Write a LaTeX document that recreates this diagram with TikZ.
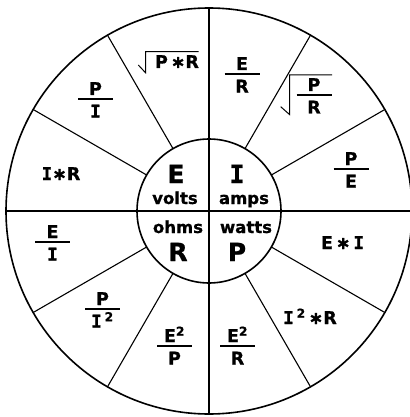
\documentclass[tikz,border=0pt]{standalone}
\usepackage{fontspec}
\setmainfont{DejaVu Sans}[BoldFeatures={FakeBold=0.8}]
\newfontfamily\serifI{DejaVu Sans Mono}[BoldFeatures={FakeBold=0.8}]
\usetikzlibrary{calc}
\newcommand{\st}{{∗}}
\newcommand{\II}{{\serifI I}}
\tikzset{
  outerc/.style={line width=1.6pt},
  innerc/.style={line width=1.6pt},
  spoke/.style={line width=1.1pt},
  bar/.style={line width=1.4pt},
  rad/.style={line width=1.0pt, line join=miter},
  lbl/.style={font=\fontsize{17.5}{18}\bfseries\selectfont, inner sep=0pt, anchor=base},
  big/.style={font=\fontsize{25}{25}\bfseries\selectfont, inner sep=0pt, anchor=base},
  unit/.style={font=\fontsize{16.5}{17}\bfseries\selectfont, inner sep=0pt, anchor=base},
}
% fraction: name, x, ybar, numerator, denominator
\newcommand{\fr}[5]{%
  \node[lbl] (#1n) at (#2,#3-4) {#4};
  \draw[bar] (#2-17.5,#3) -- (#2+17.5,#3);
  \node[lbl] (#1d) at (#2,#3+18.5) {#5};
}
\begin{document}
\begin{tikzpicture}[x=1pt,y=-1pt]
\useasboundingbox (0,0) rectangle (409,417);
\coordinate (O) at (209,211);
% spokes
\draw[spoke] ($(O)+(0,-203)$) -- ($(O)+(0,203)$);
\draw[spoke] ($(O)+(-203,0)$) -- ($(O)+(203,0)$);
\foreach \a in {30,60,120,150,210,240,300,330}
  \draw[spoke] ($(O)+(\a:72)$) -- ($(O)+(\a:203)$);
\draw[outerc] (O) circle[radius=203pt];
\draw[innerc] (O) circle[radius=72pt];
% centre
\node[big] (E) at (176,183) {E};
\node[big] (I) at (237,183) {\II};
\node[big] (R) at (178,261) {R};
\node[big] (P) at (237,261) {P};
\node[unit] (volts) at (175,204) {volts};
\node[unit] (amps) at (244,204) {amps};
\node[unit] (ohms) at (178,233) {ohms};
\node[unit] (watts) at (246,233) {watts};
% outer ring
\node[lbl] (pr) at (177,68) {P\,\st R};
\draw[rad] (138.3,65) -- (145.5,72.7) -- (145.5,51.7) -- (198.5,51.7);
\fr{er}{242}{74}{E}{R}
\fr{pdr}{314}{95}{P}{R}
\draw[rad] (280.7,106.7) -- (289.5,114.5) -- (289.5,75) -- (332,75);
\fr{pe}{351}{169}{P}{E}
\node[lbl] (ei) at (342.5,249) {E\,\st\,\II};
\node[lbl] (i2r) at (310,324) {\II\,\textsuperscript{2}\,\st R};
\fr{e2r}{237.5}{346}{E\textsuperscript{2}}{R}
\fr{e2p}{174.5}{346}{E\textsuperscript{2}}{P}
\fr{pi2}{102.5}{309}{P}{\II\,\textsuperscript{2}}
\fr{ei2}{52.5}{242}{E}{\II}
\node[lbl] (ir) at (61,180) {\II\st R};
\fr{pi}{95.5}{99}{P}{\II}
\end{tikzpicture}
\end{document}
